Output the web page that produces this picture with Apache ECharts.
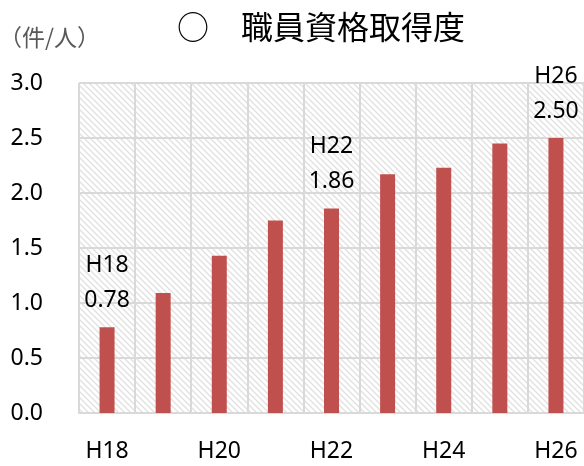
<!DOCTYPE html>
<html><head><meta charset="utf-8">
<script src="https://cdn.jsdelivr.net/npm/echarts@6/dist/echarts.min.js"></script>
<style>html,body{margin:0;padding:0;background:#fff}#c{width:584px;height:466px}</style>
</head><body><div id="c"></div>
<script>
const categories = ['H18','H19','H20','H21','H22','H23','H24','H25','H26'];
const values = [0.78, 1.09, 1.43, 1.75, 1.86, 2.17, 2.23, 2.45, 2.50];
const labeled = ['H18','H22','H26'];
const yTicks = [0, 0.5, 1.0, 1.5, 2.0, 2.5, 3.0];

const tile = document.createElement('canvas');
tile.width = 6; tile.height = 6;
const g = tile.getContext('2d');
g.fillStyle = '#ffffff'; g.fillRect(0,0,6,6);
g.strokeStyle = '#e0e0e0'; g.lineWidth = 1.3;
g.beginPath();
g.moveTo(-1,-1); g.lineTo(7,7);
g.moveTo(-4,2); g.lineTo(4,10);
g.moveTo(2,-4); g.lineTo(10,4);
g.stroke();

const cjk = '"Noto Sans CJK JP", sans-serif';
const latin = '"Noto Sans", "Noto Sans CJK JP", sans-serif';
const chart = echarts.init(document.getElementById('c'));
chart.setOption({
  animation: false,
  title: { text: '○　職員資格取得度', left: 172, top: 6,
    textStyle: { fontFamily: cjk, fontSize: 32, fontWeight: 'normal', color: '#000' } },
  graphic: [{ type: 'text', left: -1, top: 26,
    style: { text: '（件/人）', font: '23px ' + cjk, fill: '#595959' } }],
  grid: { left: 79, right: -1, top: 83, bottom: 53, show: true,
    backgroundColor: { image: tile, repeat: 'repeat' }, borderWidth: 0 },
  xAxis: { type: 'category', data: categories,
    axisLine: { show: true, lineStyle: { color: '#d9d9d9', width: 2 } },
    axisTick: { show: false },
    axisLabel: { interval: 1, margin: 27, fontFamily: latin, fontSize: 23, color: '#000' },
    splitLine: { show: true, interval: 0, lineStyle: { color: '#d9d9d9', width: 2 } } },
  yAxis: { type: 'value', min: 0, max: 3, interval: 0.5,
    axisLine: { show: false }, axisTick: { show: false },
    axisLabel: { margin: 36, fontFamily: latin, fontSize: 23, color: '#000',
      formatter: v => v.toFixed(1) },
    splitLine: { lineStyle: { color: '#d9d9d9', width: 2 } } },
  series: [{ type: 'bar', barWidth: 15,
    itemStyle: { color: '#C0504D' },
    data: values.map((v, i) => ({ value: v,
      label: { show: labeled.includes(categories[i]) } })),
    label: { position: 'top', distance: 9, fontFamily: latin, fontSize: 23, color: '#000',
      lineHeight: 35,
      formatter: p => p.name + '\n' + p.value.toFixed(2) } }]
});
</script></body></html>
